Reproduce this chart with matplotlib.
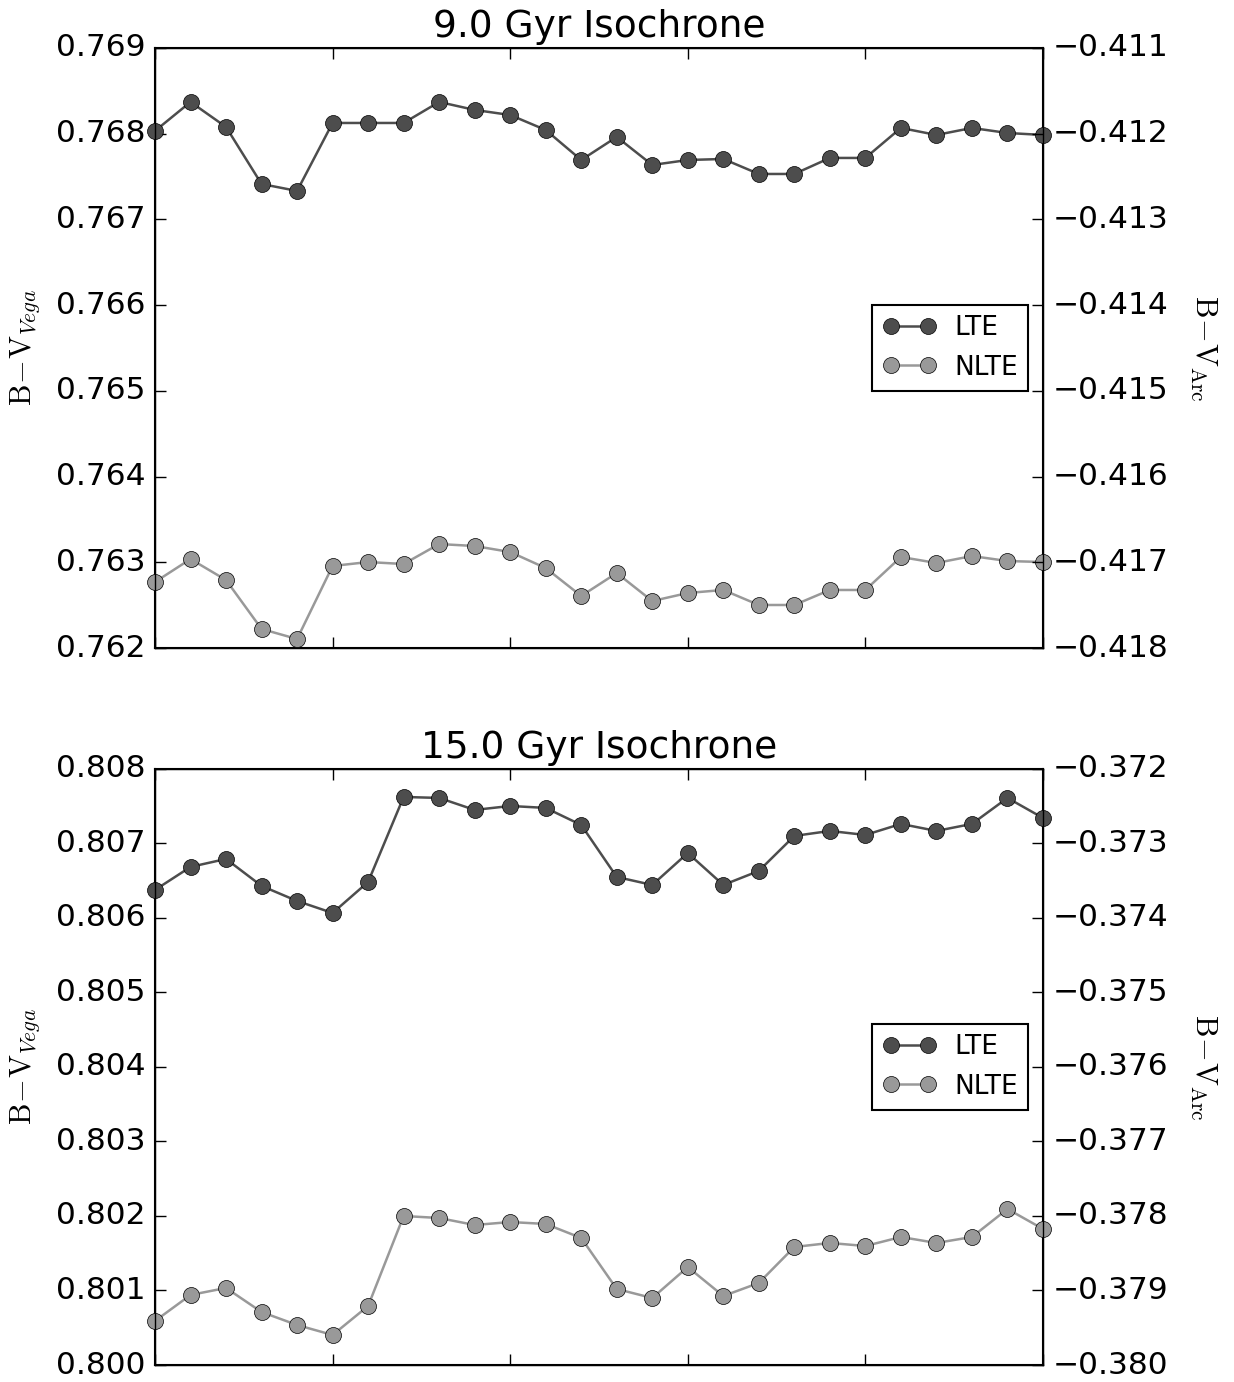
import matplotlib
matplotlib.use('Agg')
import matplotlib.pyplot as plt
import numpy as np

plt.style.use('classic')

# colour indices along each isochrone (26 points)
idx = np.arange(26)

lte_9 = [0.768032, 0.768370, 0.768078, 0.767413, 0.767332, 0.768125, 0.768125,
         0.768125, 0.768370, 0.768277, 0.768218, 0.768043, 0.767693, 0.767962,
         0.767635, 0.767693, 0.767705, 0.767530, 0.767530, 0.767717, 0.767717,
         0.768067, 0.767985, 0.768067, 0.768008, 0.767985]
nlte_9 = [0.762770, 0.763038, 0.762793, 0.762222, 0.762105, 0.762957, 0.763003,
          0.762980, 0.763213, 0.763190, 0.763120, 0.762933, 0.762607, 0.762875,
          0.762548, 0.762642, 0.762677, 0.762502, 0.762502, 0.762677, 0.762677,
          0.763062, 0.762992, 0.763073, 0.763015, 0.763003]

lte_15 = [0.806376, 0.806685, 0.806792, 0.806430, 0.806228, 0.806067, 0.806483,
          0.807624, 0.807611, 0.807450, 0.807503, 0.807477, 0.807248, 0.806550,
          0.806443, 0.806872, 0.806443, 0.806631, 0.807101, 0.807168, 0.807114,
          0.807262, 0.807168, 0.807262, 0.807611, 0.807342]
nlte_15 = [0.800591, 0.800940, 0.801034, 0.800711, 0.800537, 0.800403, 0.800792,
           0.802000, 0.801973, 0.801879, 0.801919, 0.801893, 0.801705, 0.801020,
           0.800899, 0.801315, 0.800926, 0.801101, 0.801584, 0.801638, 0.801597,
           0.801718, 0.801638, 0.801718, 0.802094, 0.801826]

titles = ['9.0 Gyr Isochrone', '15.0 Gyr Isochrone']
vega_lims = [(0.762, 0.769), (0.800, 0.808)]
arc_lims = [(-0.418, -0.411), (-0.380, -0.372)]


def fmt(v, pos):
    return ('%.3f' % v).replace('-', '\u2212')


fig = plt.figure(figsize=(12.34, 13.82), dpi=100)
boxes = [[0.1256, 0.5311, 0.7196, 0.4342], [0.1256, 0.0123, 0.7196, 0.4313]]

panels = [(lte_9, nlte_9), (lte_15, nlte_15)]
for i, (lte, nlte) in enumerate(panels):
    ax = fig.add_axes(boxes[i])
    ax.plot(idx, lte, '-o', color='#4d4d4d', mec='black', mfc='#4d4d4d',
            ms=11.5, lw=1.8, label='LTE', clip_on=False, zorder=3)
    ax.plot(idx, nlte, '-o', color='#999999', mec='black', mfc='#999999',
            ms=11.5, lw=1.8, label='NLTE', clip_on=False, zorder=3)
    ax.set_xlim(0, 25)
    ax.set_xticks(np.arange(0, 26, 5))
    ax.set_xticklabels([])
    ax.set_ylim(*vega_lims[i])
    ax.yaxis.set_major_formatter(matplotlib.ticker.FuncFormatter(fmt))
    ax.tick_params(labelsize=22.5, length=8, width=1, pad=7)
    ax.set_ylabel(r'$\mathrm{B\!-\!V}_{Vega}$', fontsize=22, labelpad=10)
    ax.set_title(titles[i], fontsize=27, pad=8)
    for s in ax.spines.values():
        s.set_linewidth(1.5)

    ax2 = ax.twinx()
    ax2.set_ylim(*arc_lims[i])
    ax2.yaxis.set_major_formatter(matplotlib.ticker.FuncFormatter(fmt))
    ax2.tick_params(labelsize=22.5, length=8, width=1, pad=7)
    ax2.set_ylabel(r'$\mathrm{B\!-\!V}_{\mathrm{Arc}}$', fontsize=22,
                   rotation=270, labelpad=36)

    leg = ax.legend(loc='center right', bbox_to_anchor=(1.0, 0.5),
                    fontsize=19, numpoints=2, borderaxespad=0.55,
                    handlelength=2.0, handletextpad=0.7)
    leg.get_frame().set_linewidth(1.5)

fig.savefig('out.png', dpi=100)
